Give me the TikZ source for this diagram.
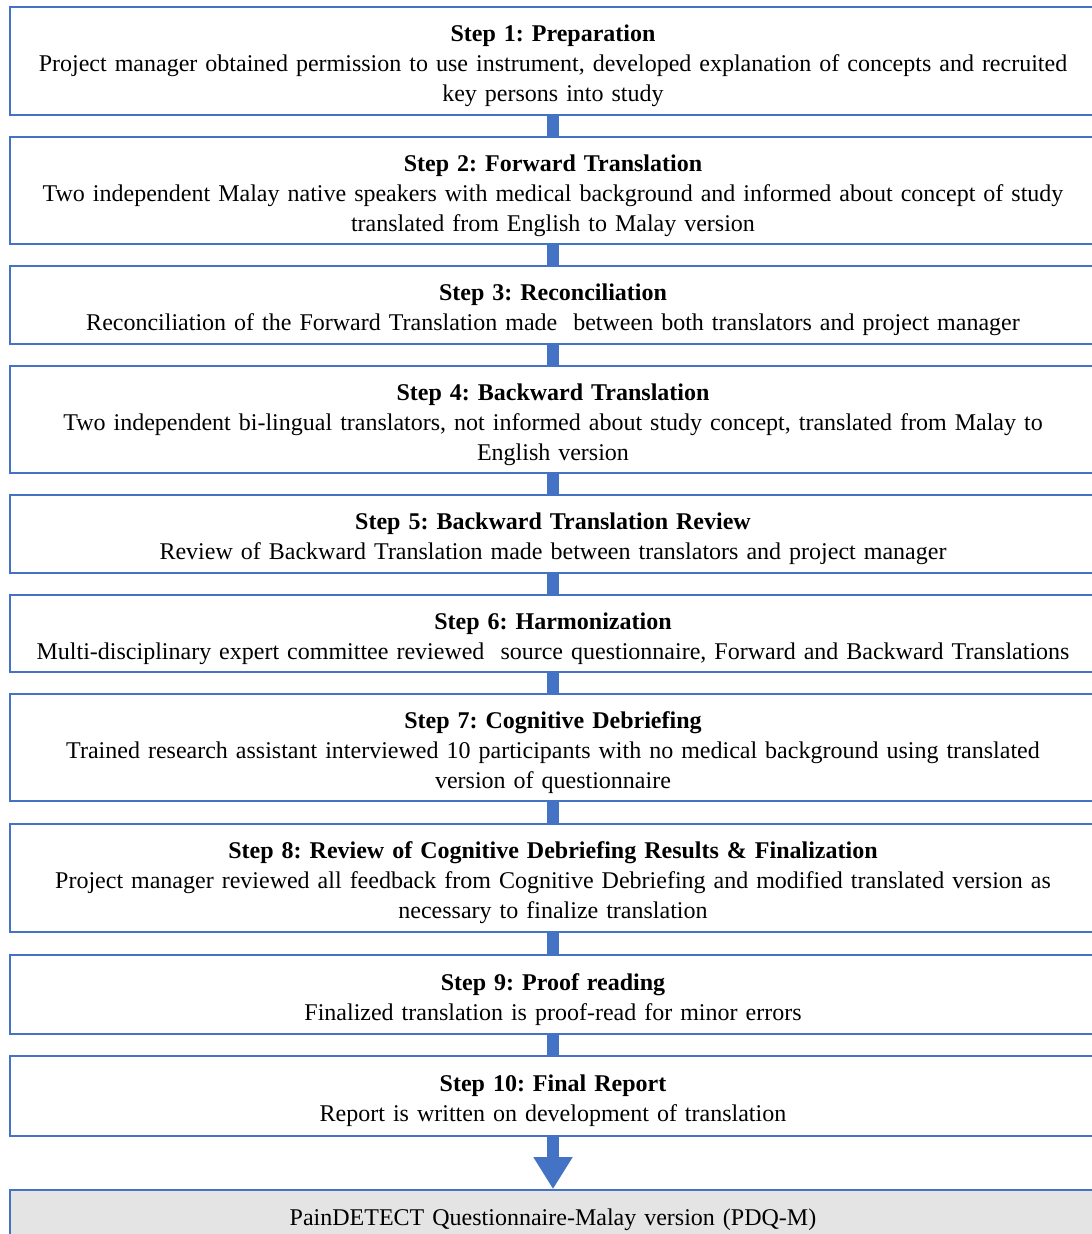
\documentclass[tikz,border=0pt]{standalone}
\usepackage{fontspec}
\setmainfont{Liberation Serif}
\usetikzlibrary{arrows.meta}
\definecolor{bord}{HTML}{4472C4}
\definecolor{grayfill}{HTML}{E4E4E4}
\newcommand{\topstrut}{\rule{0pt}{26.5pt}}
\begin{document}
\frenchspacing
\begin{tikzpicture}[x=1pt,y=-1pt, font=\fontsize{24}{30}\selectfont,
  stepbox/.style={draw=bord, line width=1.8pt, fill=white, minimum width=1086pt, inner sep=0pt, align=center, text width=1080pt},
  bar/.style={draw=bord, line width=12pt},
  bigarrow/.style={draw=bord, line width=12pt, -{Triangle[width=37pt,length=32pt]}}]
\useasboundingbox (0,0) rectangle (1092,1234);
\clip (0,0) rectangle (1092,1234);
\fill[white] (0,0) rectangle (1092,1234);
\node[stepbox, minimum height=108pt] (b1) at (553,61) {\topstrut\textbf{Step 1: Preparation}\\Project manager obtained permission to use instrument, developed explanation of concepts and recruited\\key persons into study};
\node[stepbox, minimum height=107pt] (b2) at (553,190.5) {\topstrut\textbf{Step 2: Forward Translation}\\Two independent Malay native speakers with medical background and informed about concept of study\\translated from English to Malay version};
\node[stepbox, minimum height=78pt] (b3) at (553,305) {\topstrut\textbf{Step 3: Reconciliation}\\Reconciliation of the Forward Translation made\ \ between both translators and project manager};
\node[stepbox, minimum height=107pt] (b4) at (553,419.5) {\topstrut\textbf{Step 4: Backward Translation}\\Two independent bi-lingual translators, not informed about study concept, translated from Malay to\\English version};
\node[stepbox, minimum height=78pt] (b5) at (553,534) {\topstrut\textbf{Step 5: Backward Translation Review}\\Review of Backward Translation made between translators and project manager};
\node[stepbox, minimum height=77pt] (b6) at (553,633.5) {\topstrut\textbf{Step 6: Harmonization}\\Multi-disciplinary expert committee reviewed\ \ source questionnaire, Forward and Backward Translations};
\node[stepbox, minimum height=107pt] (b7) at (553,747.5) {\topstrut\textbf{Step 7: Cognitive Debriefing}\\Trained research assistant interviewed 10 participants with no medical background using translated\\version of questionnaire};
\node[stepbox, minimum height=108pt] (b8) at (553,878) {\topstrut\textbf{Step 8: Review of Cognitive Debriefing Results \& Finalization}\\Project manager reviewed all feedback from Cognitive Debriefing and modified translated version as\\necessary to finalize translation};
\node[stepbox, minimum height=79pt] (b9) at (553,994.5) {\topstrut\textbf{Step 9: Proof reading}\\Finalized translation is proof-read for minor errors};
\node[stepbox, minimum height=80pt] (b10) at (553,1096) {\topstrut\textbf{Step 10: Final Report}\\Report is written on development of translation};
\node[stepbox, fill=grayfill, minimum height=55pt] (fin) at (553,1217.5) {\rule{0pt}{22pt}PainDETECT Questionnaire-Malay version (PDQ-M)};
\draw[bar] (b1.south) -- (b2.north);
\draw[bar] (b2.south) -- (b3.north);
\draw[bar] (b3.south) -- (b4.north);
\draw[bar] (b4.south) -- (b5.north);
\draw[bar] (b5.south) -- (b6.north);
\draw[bar] (b6.south) -- (b7.north);
\draw[bar] (b7.south) -- (b8.north);
\draw[bar] (b8.south) -- (b9.north);
\draw[bar] (b9.south) -- (b10.north);
\draw[bigarrow] (b10.south) -- (fin.north);
\end{tikzpicture}
\end{document}
